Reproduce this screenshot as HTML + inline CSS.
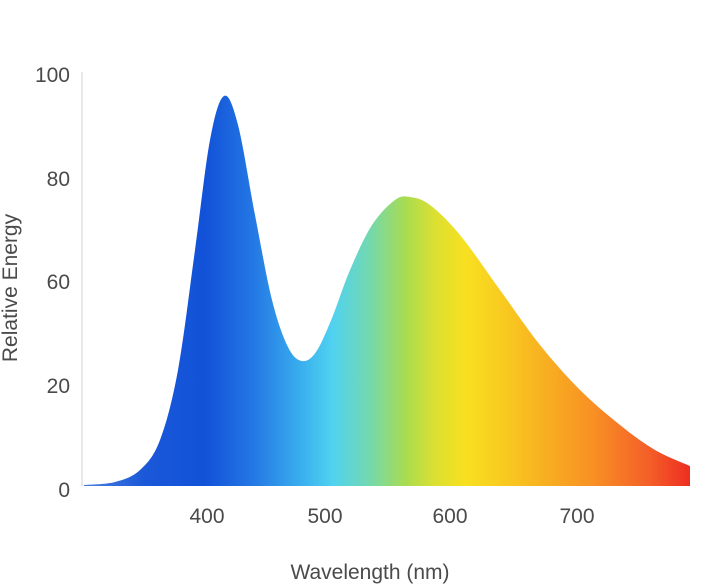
<!DOCTYPE html>
<html><head><meta charset="utf-8"><style>
html,body{margin:0;padding:0;background:#fff;}
svg{display:block;font-family:"Liberation Sans",sans-serif;}
</style></head><body>
<svg width="705" height="588" viewBox="0 0 705 588" xmlns="http://www.w3.org/2000/svg">
<defs>
<linearGradient id="g" x1="84" y1="0" x2="690" y2="0" gradientUnits="userSpaceOnUse">
<stop offset="0" stop-color="#4a7fe0"/>
<stop offset="0.1" stop-color="#1a58d8"/>
<stop offset="0.2" stop-color="#1252d8"/>
<stop offset="0.28" stop-color="#2478e4"/>
<stop offset="0.36" stop-color="#3ab0ee"/>
<stop offset="0.41" stop-color="#50d2f0"/>
<stop offset="0.47" stop-color="#72d8b0"/>
<stop offset="0.53" stop-color="#a8dc50"/>
<stop offset="0.58" stop-color="#dce030"/>
<stop offset="0.63" stop-color="#f8e020"/>
<stop offset="0.72" stop-color="#f8c020"/>
<stop offset="0.84" stop-color="#f89024"/>
<stop offset="0.93" stop-color="#f46028"/>
<stop offset="1" stop-color="#ee2e22"/>
</linearGradient>
</defs>
<line x1="82" y1="72" x2="82" y2="486" stroke="#e2e2e2" stroke-width="1.5"/>
<path id="area" fill="url(#g)" d=""/>
<g fill="#4a4a4a" font-size="21">
<text x="70" y="82" text-anchor="end">100</text>
<text x="70" y="186" text-anchor="end">80</text>
<text x="70" y="289" text-anchor="end">60</text>
<text x="70" y="393" text-anchor="end">20</text>
<text x="70" y="497" text-anchor="end">0</text>
<text x="207" y="523" text-anchor="middle">400</text>
<text x="325" y="523" text-anchor="middle">500</text>
<text x="450" y="523" text-anchor="middle">600</text>
<text x="577" y="523" text-anchor="middle">700</text>
<text x="370" y="579" text-anchor="middle">Wavelength (nm)</text>
<text transform="translate(17,288) rotate(-90)" text-anchor="middle">Relative Energy</text>
</g>
</svg>
<script>
var p=[[84,485],[115,482],[140,470],[160,440],[178,370],[195,250],[210,140],[224,96],[238,125],[255,215],[272,300],[288,347],[302,361],[316,352],[332,318],[350,270],[372,225],[395,200],[410,197],[430,205],[460,235],[500,290],[540,345],[580,390],[620,425],[655,450],[690,466]];
var d="M"+p[0][0]+","+p[0][1];
for(var i=0;i<p.length-1;i++){var a=p[i-1]||p[i],b=p[i],c=p[i+1],e=p[i+2]||c;
d+=" C"+(b[0]+(c[0]-a[0])/6)+","+(b[1]+(c[1]-a[1])/6)+" "+(c[0]-(e[0]-b[0])/6)+","+(c[1]-(e[1]-b[1])/6)+" "+c[0]+","+c[1];}
d+=" L690,486 L84,486 Z";
document.getElementById("area").setAttribute("d",d);
</script>
</body></html>
